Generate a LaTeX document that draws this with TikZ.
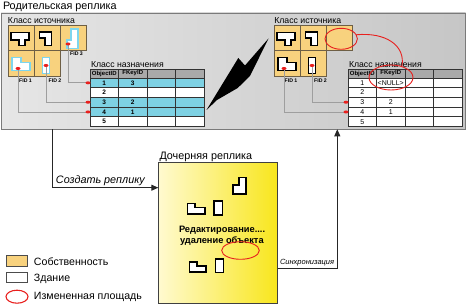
\documentclass[tikz,border=0pt]{standalone}
\usepackage{fontspec}
\setmainfont{Liberation Sans}
\usetikzlibrary{arrows.meta,calc,shapes.geometric}
\definecolor{parcel}{HTML}{F8D27E}
\definecolor{parcelline}{HTML}{6E5F45}
\definecolor{rowcyan}{HTML}{7ED1E3}
\definecolor{bldcyan}{HTML}{7DD6EE}
\definecolor{hdrgray}{HTML}{A9A9A9}
\definecolor{boxline}{HTML}{7A7A7A}
\definecolor{linkgray}{HTML}{9E9E9E}
\definecolor{chgred}{HTML}{E8201E}
\definecolor{pleft}{HTML}{E6E6E6}
\definecolor{pright}{HTML}{C6C6C6}
\definecolor{cleft}{HTML}{FFFAD0}
\definecolor{cright}{HTML}{F8E61C}
\pgfdeclarelayer{front}
\pgfsetlayers{main,front}
\begin{document}
\begin{tikzpicture}[x=1pt,y=-1pt,
  every node/.style={inner sep=0pt,outer sep=0pt},
  parentbox/.style={draw=boxline,line width=0.8pt,left color=pleft,right color=pright,anchor=north west},
  childbox/.style={draw=black!75,line width=0.8pt,left color=cleft,right color=cright,anchor=north west},
  cell/.style={draw=parcelline,line width=0.7pt,fill=parcel,minimum width=26,minimum height=25.5,anchor=north west},
  bld/.style={draw=black,line width=1.4pt,fill=white},
  bldc/.style={draw=bldcyan,line width=1.4pt,fill=white},
  reddot/.style={ellipse,fill=chgred,minimum width=5,minimum height=3},
  link/.style={draw=linkgray,line width=0.8pt},
  tcell/.style={draw=black!80,line width=0.6pt,minimum width=28.5,anchor=north west},
  chg/.style={ellipse,draw=chgred,line width=0.9pt},
  flow/.style={draw=black!85,line width=0.9pt,-{Triangle[length=7pt,width=6pt]}},
  legbox/.style={draw=black!70,line width=0.7pt,anchor=north west,minimum width=21.7},
  title/.style={font=\fontsize{10.8}{12}\selectfont},
  lbl/.style={font=\fontsize{8.7}{10}\selectfont},
  fid/.style={font=\bfseries\fontsize{5.2}{6}\selectfont},
  thd/.style={font=\bfseries\fontsize{6}{7}\selectfont},
  tnb/.style={font=\bfseries\fontsize{6.5}{7}\selectfont},
  tnr/.style={font=\fontsize{7}{8}\selectfont},
  flowlbl/.style={font=\itshape\fontsize{10.8}{12}\selectfont},
  synclbl/.style={font=\itshape\fontsize{7.5}{9}\selectfont},
  edit/.style={font=\bfseries\fontsize{9.3}{11}\selectfont},
  leg/.style={font=\fontsize{10.6}{12}\selectfont}
]
\useasboundingbox (0,0) rectangle (467,304);

% parent replica
\node[parentbox,minimum width=464.5,minimum height=116.3] (parent) at (1,13) {};
\node[title,anchor=base west] (ptitle) at (3,10) {Родительская реплика};

% lightning
\fill[black] (206.5,110) -- (238.3,58) -- (245,65.5) -- (268.5,38.5) -- (250,76) -- (237.7,88) -- (217,100) -- cycle;

% ---------- left source class
\node[lbl,anchor=base west] (lsrc) at (8,23.5) {Класс источника};
\node[cell] (ls1) at (8,25) {};
\node[cell] (ls2) at (34,25) {};
\node[cell] (ls3) at (60,25) {};
\node[cell] (ls4) at (8,50.5) {};
\node[cell] (ls5) at (34,50.5) {};
\draw[bld,shift={(ls1.north west)}] (3,7.5)--(21,7.5)--(21,15)--(17,15)--(17,20.5)--(11,20.5)--(11,15)--(3,15)--cycle;
\draw[bld,shift={(ls2.north west)}] (5.5,7)--(17.5,7)--(17.5,20.5)--(11,20.5)--(11,13)--(5.5,13)--cycle;
\draw[bldc,shift={(ls3.north west)}] (11,4)--(18,4)--(18,23.5)--(7,23.5)--(7,15)--(11,15)--cycle;
\draw[bldc,shift={(ls4.north west)}] (4,7)--(13,7)--(13,12)--(22,12)--(22,20)--(4,20)--cycle;
\draw[bldc,shift={(ls5.north west)}] (8.5,7)--(15.5,7)--(15.5,23)--(8.5,23)--cycle;
\node[fid] (lf3) at (76.5,54) {FID 3};
\node[fid] (lf1) at (25.5,81) {FID 1};
\node[fid] (lf2) at (55,81) {FID 2};

% ---------- left target table
\node[lbl,anchor=base west] (ltgt) at (91,68) {Класс назначения};
\foreach \r/\y/\h/\f in {0/69/9/hdrgray,1/78/9.7/rowcyan,2/87.7/9.7/white,3/97.4/9.7/rowcyan,4/107.1/9.7/rowcyan,5/116.8/9.7/white}{
  \foreach \c in {0,1,2,3}{
    \node[tcell,fill=\f,minimum height=\h] (lt\r\c) at ({90+28.5*\c},\y) {};
  }
}
\node[thd] at (lt00) {ObjectID};
\node[thd] at (lt01) {FKeyID};
\foreach \r in {1,...,5}{\node[tnb] at (lt\r0) {\r};}
\node[tnb] at (lt11) {3};
\node[tnb] at (lt31) {2};
\node[tnb] at (lt41) {1};

% ---------- right source class
\node[lbl,anchor=base west] (rsrc) at (274.3,23.5) {Класс источника};
\node[cell] (rs1) at (274,25) {};
\node[cell] (rs2) at (300,25) {};
\node[cell] (rs3) at (326,25) {};
\node[cell] (rs4) at (274,50.5) {};
\node[cell] (rs5) at (300,50.5) {};
\draw[bld,shift={(rs1.north west)}] (3,7.5)--(21,7.5)--(21,15)--(17,15)--(17,20.5)--(11,20.5)--(11,15)--(3,15)--cycle;
\draw[bld,shift={(rs2.north west)}] (5.5,7)--(17.5,7)--(17.5,20.5)--(11,20.5)--(11,13)--(5.5,13)--cycle;
\draw[bld,shift={(rs4.north west)}] (4,7)--(13,7)--(13,12)--(22,12)--(22,20)--(4,20)--cycle;
\draw[bld,shift={(rs5.north west)}] (8.5,7)--(15.5,7)--(15.5,23)--(8.5,23)--cycle;
\node[fid] (rf1) at (291,81) {FID 1};
\node[fid] (rf2) at (320.5,81) {FID 2};

% ---------- right target table
\node[lbl,anchor=base west] (rtgt) at (349,67.5) {Класс назначения};
\foreach \r/\y/\h/\f in {0/69/9/hdrgray,1/78/9.7/white,2/87.7/9.7/white,3/97.4/9.7/white,4/107.1/9.7/white,5/116.8/9.7/white}{
  \foreach \c in {0,1,2,3}{
    \node[tcell,fill=\f,minimum height=\h] (rt\r\c) at ({348+28.5*\c},\y) {};
  }
}
\node[thd] at (rt00) {ObjectID};
\node[thd] at (rt01) {FKeyID};
\foreach \r in {1,...,5}{\node[tnr] at (rt\r0) {\r};}
\node[tnr] at (rt11) {<NULL>};
\node[tnr] at (rt31) {2};
\node[tnr] at (rt41) {1};

% ---------- red dots and markers (front layer)
\begin{pgfonlayer}{front}
\node[reddot] (ld3) at ($(ls3.north west)+(8,19)$) {};
\node[reddot] (ld1) at ($(ls4.north west)+(10,18)$) {};
\node[reddot] (ld2) at ($(ls5.north west)+(12,15)$) {};
\node[reddot] (lm1) at ($(lt10.west)+(-2,0)$) {};
\node[reddot] (lm3) at ($(lt30.west)+(-2,0)$) {};
\node[reddot] (lm4) at ($(lt40.west)+(-2,0)$) {};
\node[reddot] (rd1) at ($(rs4.north west)+(10,18)$) {};
\node[reddot] (rd2) at ($(rs5.north west)+(12,15)$) {};
\node[reddot] (rm3) at ($(rt30.west)+(-2,0)$) {};
\node[reddot] (rm4) at ($(rt40.west)+(-2,0)$) {};
\end{pgfonlayer}
\draw[link] (ld3.center) |- (lm1.center);
\draw[link] (ld2.center) |- (lm3.center);
\draw[link] (ld1.center) |- (lm4.center);
\draw[link] (rd2.center) |- (rm3.center);
\draw[link] (rd1.center) |- (rm4.center);

% changed areas (parent)
\node[chg,minimum width=32.4,minimum height=21] (e1) at (341.2,38.8) {};
\node[chg,minimum width=44,minimum height=25] (e2) at (391,77.5) {};
\draw[chgred,line width=0.9pt] (e1.15) .. controls (385,32) and (406,45) .. (e2.45);

% ---------- child replica
\node[childbox,minimum width=119.4,minimum height=140.6] (child) at (158.3,162.7) {};
\node[title,anchor=base west] (ctitle) at (159.5,159.8) {Дочерняя реплика};
\draw[bld] (239,177.5)--(246,177.5)--(246,194)--(233,194)--(233,185)--(239,185)--cycle;
\draw[bld] (187.5,203.5)--(195,203.5)--(195,207.5)--(205,207.5)--(205,214)--(187.5,214)--cycle;
\draw[bld] (214,201) rectangle (222.5,215);
\draw[bld] (189.5,262)--(197,262)--(197,266)--(206,266)--(206,272)--(189.5,272)--cycle;
\draw[bld] (215.5,259) rectangle (223.5,272.5);
\node[edit,anchor=base west] (ed1) at (179,232.5) {Редактирование....};
\node[edit,anchor=base west] (ed2) at (180,243.2) {удаление объекта};
\node[chg,minimum width=37.6,minimum height=17.6] (e3) at (240.5,250.5) {};

% ---------- flows
\coordinate (cstart) at ($(parent.south west)+(51.5,0)$);
\coordinate (cend) at ($(child.north west)+(0,25)$);
\draw[flow] (cstart) |- (cend);
\node[flowlbl,anchor=base west] (clbl) at (56,184) {Создать реплику};
\coordinate (sstart) at ($(child.north east)+(0,106)$);
\coordinate (send) at ($(parent.south west)+(336.3,0)$);
\draw[flow] (sstart) -| (send);
\node[synclbl,anchor=base west] (slbl) at (280,264.3) {Синхронизация};

% ---------- legend
\node[legbox,fill=parcel,minimum height=11.7] (lg1) at (6,255) {};
\node[leg,anchor=base west] (lt1) at (34,265.5) {Собственность};
\node[legbox,fill=white,minimum height=10] (lg2) at (6,272.7) {};
\node[leg,anchor=base west] (lt2) at (34,282) {Здание};
\node[chg,line width=1.1pt,minimum width=22,minimum height=13] (lg3) at (17,296.7) {};
\node[leg,anchor=base west] (lt3) at (34,299.5) {Измененная площадь};
\end{tikzpicture}
\end{document}
